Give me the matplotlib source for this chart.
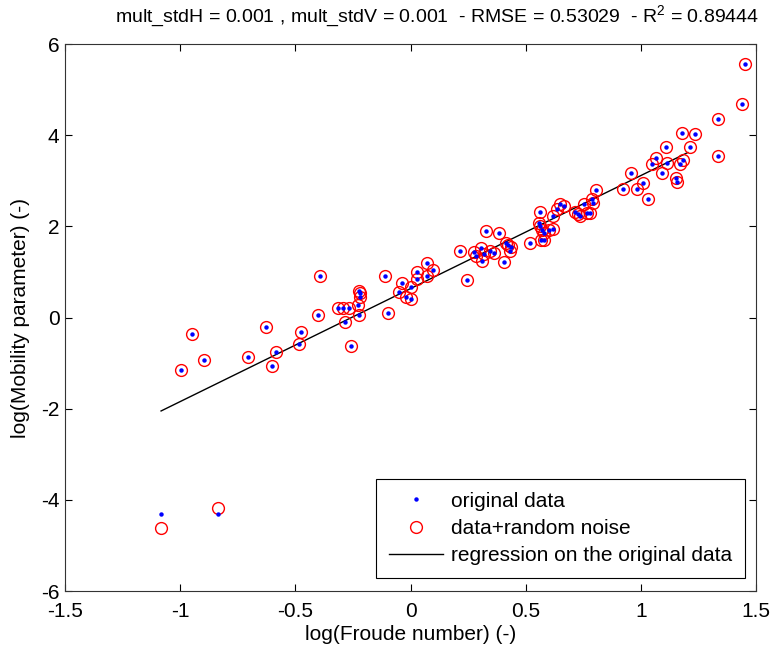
import matplotlib
matplotlib.use("Agg")
import matplotlib.pyplot as plt

fam = "Liberation Sans"
plt.rcParams['font.family'] = [fam, 'DejaVu Sans']
plt.rcParams['mathtext.fontset'] = 'custom'
plt.rcParams['mathtext.rm'] = fam

orig_x = [-1.083, -0.836, -0.995, -0.947, -0.895, -0.707, -0.626, -0.603, -0.584, -0.483,
          -0.477, -0.402, -0.393, -0.315, -0.292, -0.267, -0.284, -0.258, -0.228, -0.224,
          -0.225, -0.218, -0.220, -0.112, -0.099, -0.038, -0.050, -0.018, 0.002, 0.002,
          0.027, 0.030, 0.070, 0.072, 0.098, 0.215, 0.247, 0.277, 0.286, 0.305,
          0.309, 0.319, 0.328, 0.344, 0.364, 0.386, 0.406, 0.416, 0.422, 0.432,
          0.436, 0.519, 0.559, 0.564, 0.564, 0.567, 0.572, 0.578, 0.581, 0.603,
          0.617, 0.619, 0.635, 0.648, 0.667, 0.713, 0.726, 0.737, 0.755, 0.766,
          0.779, 0.787, 0.792, 0.804, 0.921, 0.956, 0.985, 1.008, 1.031, 1.047,
          1.067, 1.093, 1.109, 1.115, 1.153, 1.157, 1.172, 1.183, 1.180, 1.215,
          1.234, 1.337, 1.337, 1.439, 1.454]
orig_y = [-4.31, -4.31, -1.16, -0.37, -0.94, -0.87, -0.21, -1.06, -0.75, -0.58,
          -0.32, 0.05, 0.90, 0.21, 0.21, 0.21, -0.10, -0.63, 0.27, 0.06,
          0.59, 0.54, 0.46, 0.90, 0.09, 0.76, 0.55, 0.44, 0.40, 0.66,
          0.99, 0.84, 0.90, 1.19, 1.05, 1.46, 0.83, 1.44, 1.34, 1.52,
          1.25, 1.39, 1.89, 1.46, 1.41, 1.85, 1.22, 1.63, 1.59, 1.47,
          1.55, 1.63, 2.07, 2.32, 2.00, 1.71, 1.92, 1.85, 1.71, 1.93,
          1.95, 2.23, 2.38, 2.50, 2.45, 2.31, 2.26, 2.23, 2.49, 2.29,
          2.29, 2.60, 2.52, 2.79, 2.81, 3.18, 2.82, 2.96, 2.61, 3.37,
          3.51, 3.18, 3.75, 3.40, 3.06, 2.98, 3.36, 3.45, 4.04, 3.75,
          4.02, 4.35, 3.54, 4.68, 5.56]

# noisy data: identical to the original except the two low points
noisy_x = list(orig_x)
noisy_y = list(orig_y)
noisy_y[0] = -4.62
noisy_y[1] = -4.18

reg_x = [-1.083, 1.204]
reg_y = [-2.05, 3.62]

xticks = [-1.5, -1, -0.5, 0, 0.5, 1, 1.5]
xtick_labels = ['-1.5', '-1', '-0.5', '0', '0.5', '1', '1.5']
yticks = [-6, -4, -2, 0, 2, 4, 6]
ytick_labels = ['-6', '-4', '-2', '0', '2', '4', '6']

title = r"mult_stdH = 0.001 , mult_stdV = 0.001  - RMSE = 0.53029  - R$^2$ = 0.89444"

fig = plt.figure(figsize=(7.75, 6.53), dpi=100)
ax = fig.add_axes([0.0839, 0.0949, 0.8916, 0.8377])

ax.plot(orig_x, orig_y, 'o', color='#0000ff', markersize=3.2, markeredgewidth=0,
        linestyle='none', label='original data', zorder=3)
ax.plot(noisy_x, noisy_y, 'o', markerfacecolor='none', markeredgecolor='#ff0000',
        markersize=8.5, markeredgewidth=1.0, linestyle='none',
        label='data+random noise', zorder=2)
ax.plot(reg_x, reg_y, '-', color='black', linewidth=1.0,
        label='regression on the original data', zorder=1)

ax.set_xlim(-1.5, 1.5)
ax.set_ylim(-6, 6)
ax.set_xticks(xticks)
ax.set_xticklabels(xtick_labels)
ax.set_yticks(yticks)
ax.set_yticklabels(ytick_labels)
ax.tick_params(direction='in', top=True, right=True, length=5, width=0.8,
               labelsize=15)
ax.tick_params(axis='x', pad=8)
ax.tick_params(axis='y', pad=4)
for s in ax.spines.values():
    s.set_linewidth(0.8)
    s.set_color('#333333')

ax.set_xlabel('log(Froude number) (-)', fontsize=15, labelpad=3)
ax.set_ylabel('log(Mobility parameter) (-)', fontsize=15, labelpad=8)
ax.set_title(title, fontsize=14, pad=16, x=0.538)

leg = ax.legend(loc='lower right', bbox_to_anchor=(0.984, 0.024), fontsize=15,
                frameon=True, fancybox=False, edgecolor='black', framealpha=1,
                borderpad=0.6, labelspacing=0.4, handlelength=2.6,
                handletextpad=0.4, borderaxespad=0)
leg.get_frame().set_linewidth(0.8)

fig.savefig('out.png', dpi=100)
